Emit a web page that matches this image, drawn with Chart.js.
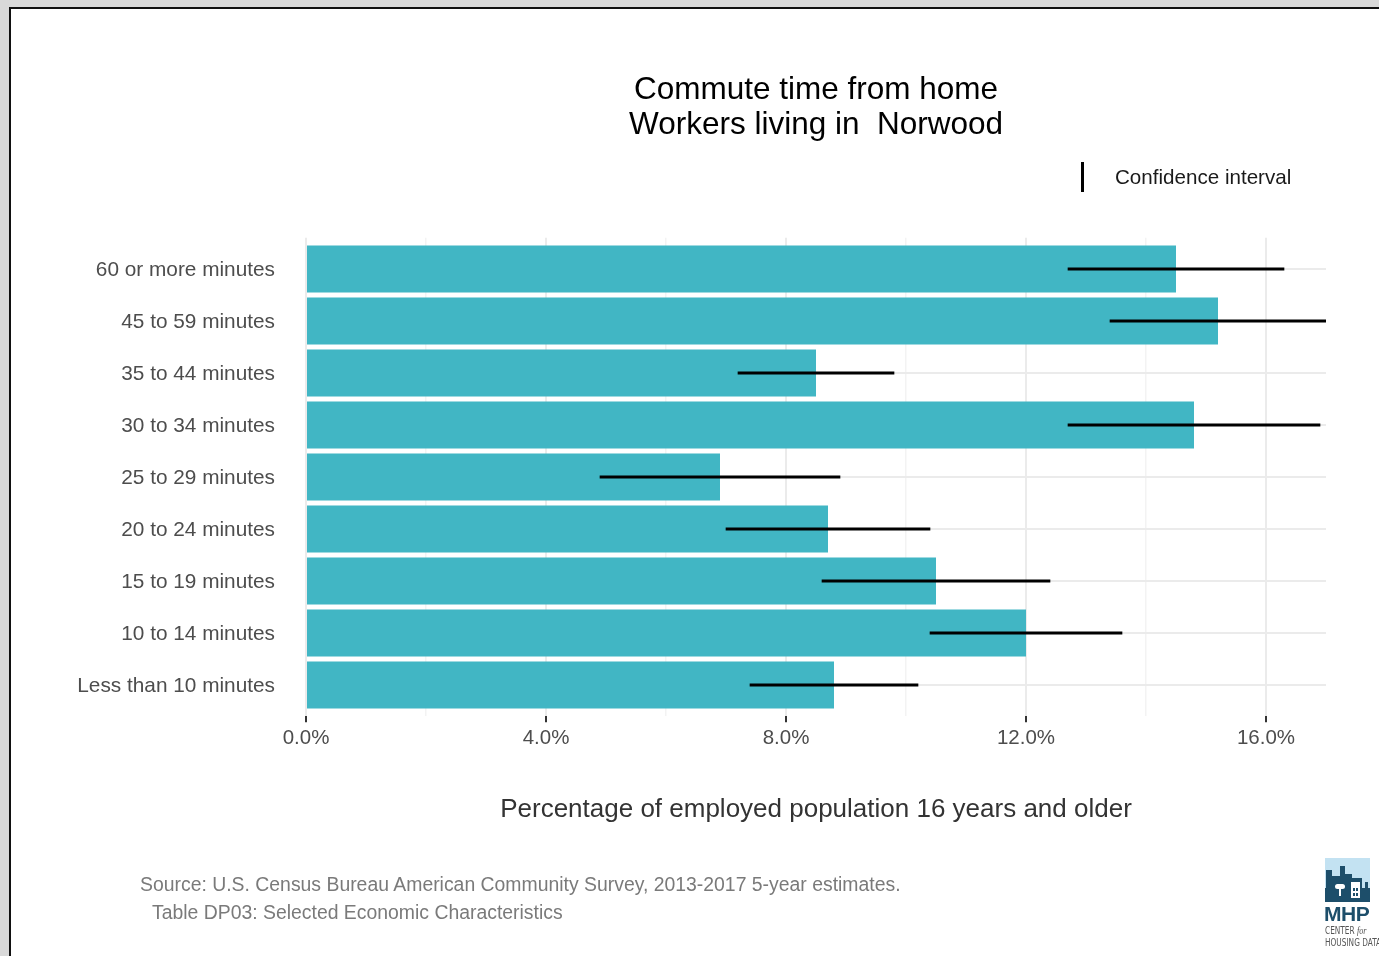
<!DOCTYPE html>
<html>
<head>
<meta charset="utf-8">
<script src="https://cdn.jsdelivr.net/npm/chart.js@4.4.1/dist/chart.umd.min.js"></script>
<style>
  body { margin: 0; width: 1379px; height: 956px; background: #d9d9d9; overflow: hidden; position: relative; font-family: "Liberation Sans", Arial, sans-serif; }
  #frame { position: absolute; left: 9px; top: 7px; width: 1400px; height: 1000px; background: #fff; border-left: 2px solid #111; border-top: 2px solid #111; }
  #chart { position: absolute; left: 0; top: 0; }
  #title { position: absolute; left: 316px; top: 71px; width: 1000px; text-align: center; font-size: 31.5px; line-height: 35px; color: #000; white-space: pre; }
  #legend { position: absolute; left: 1081px; top: 162px; height: 30px; font-size: 20.6px; color: #1a1a1a; line-height: 30px; }
  #legend .mark { position: absolute; left: 0; top: 0; width: 2.5px; height: 30px; background: #000; }
  #legend .txt { position: absolute; left: 34px; top: 0; white-space: nowrap; }
  .cap { position: absolute; font-size: 19.4px; line-height: 22px; color: #7a7a7a; white-space: pre; }
  #logo { position: absolute; left: 1325px; top: 858px; width: 60px; height: 98px; }
  #logo .sky { position: absolute; left: 0; top: 0; width: 45px; height: 44px; background: #c3e2f2; overflow: hidden; }
  #logo .b { position: absolute; background: #1d4e6a; }
  #logo .w { position: absolute; background: #fff; }
  #logo .mhp { position: absolute; left: -1px; top: 44px; font: bold 21px "Liberation Sans", Arial, sans-serif; color: #1d4e6a; letter-spacing: -0.5px; }
  #logo .sub { position: absolute; left: 0; font: 10px "DejaVu Sans Condensed", "Liberation Sans Narrow", sans-serif; color: #555; white-space: nowrap; transform-origin: 0 0; transform: scaleX(0.82); }
</style>
</head>
<body>
<div id="frame"></div>
<canvas id="chart" width="1379" height="956"></canvas>
<div id="title">Commute time from home
Workers living in  Norwood</div>
<div id="legend"><span class="mark"></span><span class="txt">Confidence interval</span></div>
<div class="cap" style="left:140px; top:873px;">Source: U.S. Census Bureau American Community Survey, 2013-2017 5-year estimates.</div>
<div class="cap" style="left:152px; top:901px;">Table DP03: Selected Economic Characteristics</div>
<div id="logo">
  <div class="sky">
    <div class="b" style="left:0; top:30px; width:45px; height:14px;"></div>
    <div class="b" style="left:1px; top:12px; width:6px; height:20px;"></div>
    <div class="b" style="left:7px; top:18px; width:8px; height:14px;"></div>
    <div class="b" style="left:15px; top:8px; width:5px; height:24px;"></div>
    <div class="b" style="left:20px; top:16px; width:7px; height:16px;"></div>
    <div class="b" style="left:27px; top:20px; width:10px; height:12px;"></div>
    <div class="b" style="left:40px; top:24px; width:3px; height:8px;"></div>
    <div class="w" style="left:10px; top:26px; width:10px; height:5px; border-radius:3px;"></div>
    <div class="w" style="left:14px; top:30px; width:2px; height:8px;"></div>
    <div class="w" style="left:26px; top:24px; width:9px; height:16px;"></div>
    <div class="b" style="left:28px; top:30px; width:2px; height:3px;"></div>
    <div class="b" style="left:31px; top:30px; width:2px; height:3px;"></div>
    <div class="b" style="left:28px; top:35px; width:2px; height:3px;"></div>
    <div class="b" style="left:31px; top:35px; width:2px; height:3px;"></div>
  </div>
  <div class="mhp">MHP</div>
  <div class="sub" style="top:67px;">CENTER <i style="font-family:'Liberation Serif',serif;">for</i></div>
  <div class="sub" style="top:79px;">HOUSING DATA</div>
</div>
<script>
const categories = [
  '60 or more minutes',
  '45 to 59 minutes',
  '35 to 44 minutes',
  '30 to 34 minutes',
  '25 to 29 minutes',
  '20 to 24 minutes',
  '15 to 19 minutes',
  '10 to 14 minutes',
  'Less than 10 minutes'
];
// percent of employed population 16+
const shares = [14.5, 15.2, 8.5, 14.8, 6.9, 8.7, 10.5, 12.0, 8.8];
const ciLow  = [12.7, 13.4, 7.2, 12.7, 4.9, 7.0, 8.6, 10.4, 7.4];
const ciHigh = [16.3, 17.0, 9.8, 16.9, 8.9, 10.4, 12.4, 13.6, 10.2];
const xMax = 17;

const ctx = document.getElementById('chart').getContext('2d');

const chart = new Chart(ctx, {
    type: 'bar',
    data: {
        labels: categories,
        datasets: [
            {
                label: 'Share',
                data: shares,
                backgroundColor: '#41b6c4',
                grouped: false,
                order: 2,
                categoryPercentage: 0.9,
                barPercentage: 1
            },
            {
                label: 'Confidence interval',
                data: categories.map((c, i) => [ciLow[i], ciHigh[i]]),
                backgroundColor: '#000',
                grouped: false,
                order: 1,
                barThickness: 2.5
            }
        ]
    },
    options: {
        indexAxis: 'y',
        responsive: false,
        animation: false,
        layout: {
            padding: { left: 0, top: 237.8, right: 53, bottom: 130.4 }
        },
        plugins: {
            legend: { display: false },
            tooltip: { enabled: false }
        },
        scales: {
            x: {
                min: 0,
                max: xMax,
                border: { display: false },
                afterBuildTicks: (s) => {
                    s.ticks = s.ticks.filter(t => t.value % 2 === 0);
                },
                afterFit: (s) => { s.height = 109.4; },
                ticks: {
                    stepSize: 2,
                    autoSkip: false,
                    maxRotation: 0,
                    padding: 4,
                    color: '#4d4d4d',
                    font: { family: 'Liberation Sans', size: 20.5 },
                    callback: (v) => v % 4 === 0 ? v.toFixed(1) + '%' : ''
                },
                grid: {
                    color: (c) => c.tick && c.tick.value % 4 === 0 ? '#ebebeb' : '#f3f3f3',
                    lineWidth: (c) => c.tick && c.tick.value % 4 === 0 ? 2 : 1.5,
                    tickColor: (c) => c.tick && c.tick.value % 4 === 0 ? '#333' : 'rgba(0,0,0,0)',
                    tickLength: 6,
                    tickWidth: 2
                },
                title: {
                    display: true,
                    text: 'Percentage of employed population 16 years and older',
                    color: '#333',
                    font: { family: 'Liberation Sans', size: 26 },
                    padding: 0
                }
            },
            y: {
                border: { display: false },
                afterBuildTicks: (s) => {
                    // ggplot-style 0.6 expansion instead of 0.5
                    s._startValue -= 0.1;
                    s._valueRange += 0.2;
                },
                afterFit: (s) => { s.width = 306; },
                ticks: {
                    padding: 31,
                    labelOffset: 1,
                    color: '#4d4d4d',
                    font: { family: 'Liberation Sans', size: 20.8 }
                },
                grid: {
                    offset: false,
                    color: '#ebebeb',
                    lineWidth: 2,
                    drawTicks: false
                }
            }
        }
    }
});
</script>
</body>
</html>
